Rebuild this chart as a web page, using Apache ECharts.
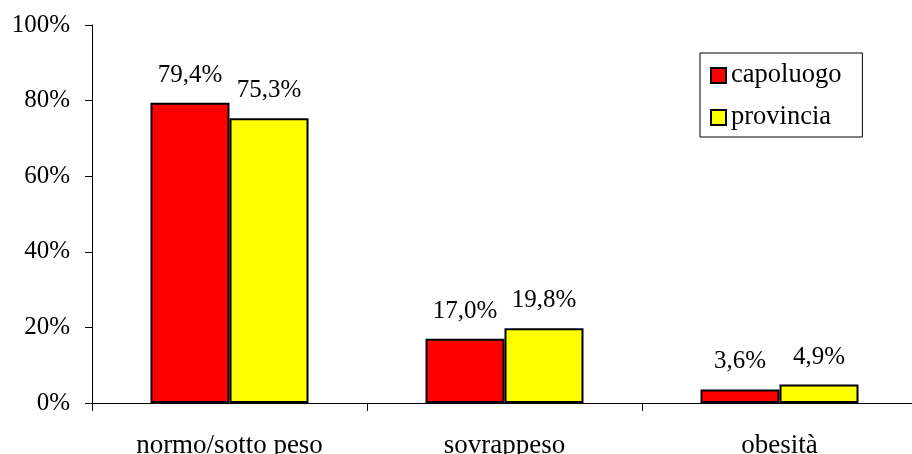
<!DOCTYPE html>
<html>
<head>
<meta charset="utf-8">
<script src="https://cdn.jsdelivr.net/npm/echarts@6/dist/echarts.min.js"></script>
<style>
  html, body { margin: 0; padding: 0; background: #fff; }
  #chart { width: 912px; height: 454px; }
</style>
</head>
<body>
<div id="chart"></div>
<script>
// Categorie e valori (%)
const categories = ['normo/sotto peso', 'sovrappeso', 'obesità'];
const capoluogo = [79.4, 17.0, 3.6];
const provincia = [75.3, 19.8, 4.9];
const seriesNames = ['capoluogo', 'provincia'];

const FONT = '"Liberation Serif", "Times New Roman", serif';
const FS = 25;      // cifre (assi ed etichette)
const FS_TXT = 27;  // testo (categorie e legenda)
const fmtPct = v => v.toFixed(1).replace('.', ',') + '%';

const chart = echarts.init(document.getElementById('chart'));

function barSeries(name, data, color) {
  return {
    name: name,
    type: 'bar',
    data: data,
    barWidth: 79,
    barGap: '0%',
    itemStyle: { color: color, borderColor: '#000', borderWidth: 2 },
    label: {
      show: true,
      position: 'top',
      distance: 15,
      formatter: p => fmtPct(p.value),
      color: '#000',
      fontFamily: FONT,
      fontSize: FS
    }
  };
}

chart.setOption({
  animation: false,
  backgroundColor: '#fff',
  grid: {
    left: 92, top: 25, width: 825, bottom: 51,
    containLabel: false,
    outerBoundsMode: 'none'
  },
  legend: {
    orient: 'vertical',
    left: 700,
    top: 53,
    itemWidth: 15,
    itemHeight: 15,
    itemGap: 15,
    padding: [9, 21, 6, 10],
    borderColor: '#000',
    borderWidth: 1,
    icon: 'rect',
    itemStyle: { borderColor: '#000', borderWidth: 2 },
    data: seriesNames,
    textStyle: { fontFamily: FONT, fontSize: FS_TXT - 0.5, color: '#000', padding: [0, 0, 0, 0] }
  },
  xAxis: {
    type: 'category',
    data: categories,
    axisLine: { lineStyle: { color: '#000', width: 1 } },
    axisTick: { show: true, length: 8, lineStyle: { color: '#000' } },
    axisLabel: { fontFamily: FONT, fontSize: FS_TXT, color: '#000', margin: 29 }
  },
  yAxis: {
    type: 'value',
    min: 0,
    max: 100,
    interval: 20,
    axisLine: { show: true, lineStyle: { color: '#000', width: 1 } },
    axisTick: { show: true, inside: false, length: 7, lineStyle: { color: '#000' } },
    splitLine: { show: false },
    axisLabel: { fontFamily: FONT, fontSize: FS, color: '#000', margin: 22, formatter: '{value}%' }
  },
  series: [
    barSeries('capoluogo', capoluogo, '#ff0000'),
    barSeries('provincia', provincia, '#ffff00')
  ]
});
</script>
</body>
</html>
